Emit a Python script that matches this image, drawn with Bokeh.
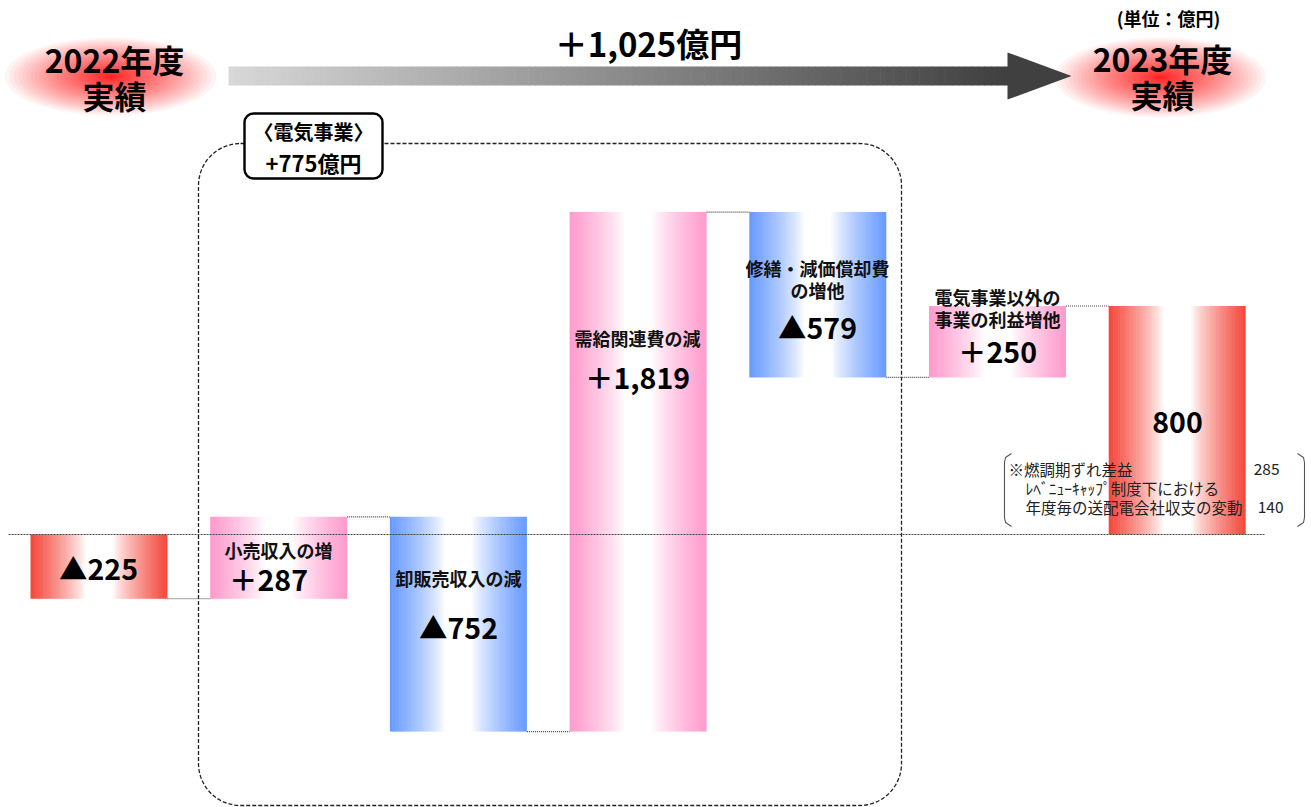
import numpy as np
from bokeh.plotting import figure
from bokeh.models import Range1d, BoxAnnotation
from bokeh.embed import file_html
from bokeh.resources import INLINE
from bokeh.core.properties import value

# ---------------- data ----------------
categories = ["2022年度実績", "小売収入の増", "卸販売収入の減", "需給関連費の減",
              "修繕・減価償却費の増他", "電気事業以外の事業の利益増他", "2023年度実績"]
values = [-225, 287, -752, 1819, -579, 250, 800]
kinds = ["total", "inc", "dec", "inc", "dec", "inc", "total"]
value_labels = ["▲225", "＋287", "▲752", "＋1,819", "▲579", "＋250", "800"]
title_lines = [[], ["小売収入の増"], ["卸販売収入の減"], ["需給関連費の減"],
               ["修繕・減価償却費", "の増他"], ["電気事業以外の", "事業の利益増他"], []]
start_title = ["2022年度", "実績"]
end_title = ["2023年度", "実績"]
unit_label = "(単位：億円)"
total_change_label = "＋1,025億円"
segment_label = ["〈電気事業〉", "+775億円"]
note_texts = ["※燃調期ずれ差益", "ﾚﾍﾞﾆｭｰｷｬｯﾌﾟ制度下における", "年度毎の送配電会社収支の変動"]
note_values = ["285", "", "140"]

# ---------------- layout ----------------
W, H = 1311, 807
ZERO_PX = 534
SCALE = 0.2856          # px per 億円
X0, STEP, BW = 98.5, 179.7, 137
FONT = value("Noto Sans CJK JP")
COLORS = {"total": (244, 70, 58), "inc": (255, 153, 204), "dec": (102, 153, 255)}

def py(v):
    return H - v

p = figure(width=W, height=H, output_backend="svg", toolbar_location=None,
           x_range=Range1d(0, W),
           y_range=Range1d(-(H - ZERO_PX) / SCALE, ZERO_PX / SCALE),
           min_border=0, outline_line_color=None)
p.extra_y_ranges = {"px": Range1d(0, H)}
p.xaxis.visible = False
p.yaxis.visible = False
p.grid.visible = False
p.background_fill_color = "white"
p.border_fill_color = "white"

# dashed rounded frame for electric business + label box
frame = BoxAnnotation(left=198, right=901, top=py(143), bottom=py(805), y_range_name="px",
                      fill_alpha=0, line_color="#222222", line_alpha=1, line_dash="4 2",
                      line_width=1.3, border_radius=42, level="underlay")
p.add_layout(frame)
lab_box = BoxAnnotation(left=244, right=382, top=py(113), bottom=py(178), y_range_name="px",
                        fill_color="white", fill_alpha=1, line_color="black", line_alpha=1,
                        line_width=2.4, border_radius=9, level="underlay")
p.add_layout(lab_box)

# ---------------- glows ----------------
def glow(cx, cy, w, h):
    n = 45
    xs, ys, ws, hs = [], [], [], []
    for k in range(n):
        s = (1 - k / n) ** 2.0
        xs.append(cx); ys.append(py(cy)); ws.append(w * s); hs.append(h * s)
    p.ellipse(x=xs, y=ys, width=ws, height=hs, fill_color="#ff0000", fill_alpha=0.045,
              line_color=None, y_range_name="px")

glow(110, 76, 212, 78)
glow(1160, 77, 212, 80)

# ---------------- big arrow ----------------
n_arr = 120
ax0, ax1 = 228, 1010
edges = np.linspace(ax0, ax1, n_arr + 1)
g = np.linspace(216, 64, n_arr).astype(int)
p.quad(left=edges[:-1], right=edges[1:] + 0.6, top=py(66), bottom=py(85),
       fill_color=["#%02x%02x%02x" % (v, v, v) for v in g], line_color=None, y_range_name="px")
p.patch(x=[1007, 1071, 1007], y=[py(52), py(75.5), py(99)], fill_color="#404040",
        line_color=None, y_range_name="px")

# ---------------- waterfall bars ----------------
starts, ends = [], []
cum = 0
for v, k in zip(values, kinds):
    if k == "total":
        s, e = 0, v
    else:
        s, e = cum, cum + v
    starts.append(s); ends.append(e)
    cum = e

N = 60
for i, (s, e, k) in enumerate(zip(starts, ends, kinds)):
    left = X0 + STEP * i - BW / 2
    ed = np.linspace(left, left + BW, N + 1)
    base = COLORS[k]
    cols = []
    for j in range(N):
        t = (j + 0.5) / N
        if t < 0.4:
            m = (0.4 - t) / 0.4
        elif t > 0.6:
            m = (t - 0.6) / 0.4
        else:
            m = 0.0
        m = m ** 0.8
        c = [int(round(255 + (b - 255) * m)) for b in base]
        cols.append("#%02x%02x%02x" % tuple(c))
    rights = ed[1:].copy()
    rights[:-1] += 0.6
    p.quad(left=ed[:-1], right=rights, top=max(s, e), bottom=min(s, e),
           fill_color=cols, line_color=None)

# connectors
cx0 = [X0 + STEP * i + BW / 2 for i in range(len(values) - 1)]
cx1 = [X0 + STEP * (i + 1) - BW / 2 for i in range(len(values) - 1)]
p.segment(x0=cx0, x1=cx1, y0=ends[:-1], y1=ends[:-1], line_color="#444444",
          line_dash="1 1", line_width=1.2)
# zero line
p.segment(x0=[8], x1=[1265], y0=[0], y1=[0], line_color="#444444", line_dash="2 1", line_width=1)

# ---------------- bar texts ----------------
val_pos = [(98, 567), (268, 578), (458, 626), (637, 376), (817, 326), (997, 350), (1177, 422)]
title_pos = [[], [(278, 549)], [(458, 577)], [(637, 337)], [(817, 267), (817, 289)],
             [(997, 296), (997, 318)], []]

tx, ty, tt = [], [], []
for i, lines in enumerate(title_lines):
    for line, (x, y) in zip(lines, title_pos[i]):
        tx.append(x); ty.append(py(y)); tt.append(line)
p.text(x=tx, y=ty, text=tt, text_font=FONT, text_font_size="18px", text_font_style="bold",
       text_align="center", text_baseline="middle", text_color="#111111", y_range_name="px")
p.text(x=[q[0] for q in val_pos], y=[py(q[1]) for q in val_pos], text=value_labels,
       text_font=FONT, text_font_size="28.5px", text_font_style="bold",
       text_align="center", text_baseline="middle", text_color="black", y_range_name="px")

# ---------------- headers ----------------
p.text(x=[114, 114], y=[py(58), py(94)], text=start_title, text_font=FONT, text_font_size="32px",
       text_font_style="bold", text_align="center", text_baseline="middle", y_range_name="px")
p.text(x=[1162, 1162], y=[py(57), py(93)], text=end_title, text_font=FONT, text_font_size="32px",
       text_font_style="bold", text_align="center", text_baseline="middle", y_range_name="px")
p.text(x=[1168], y=[py(17)], text=[unit_label], text_font=FONT, text_font_size="18px",
       text_font_style="bold", text_align="center", text_baseline="middle", y_range_name="px")
p.text(x=[648], y=[py(42)], text=[total_change_label], text_font=FONT, text_font_size="33px",
       text_font_style="bold", text_align="center", text_baseline="middle", y_range_name="px")
p.text(x=[313, 313], y=[py(131), py(161)], text=segment_label, text_font=FONT,
       text_font_size=["20px", "22px"], text_font_style="bold", text_align="center",
       text_baseline="middle", y_range_name="px")

# ---------------- note ----------------
p.text(x=[1008, 1025, 1025], y=[py(468), py(487), py(506)], text=note_texts, text_font=FONT,
       text_font_size="15.5px", text_align="left", text_baseline="middle", text_color="#222222",
       y_range_name="px")
p.text(x=[1279, 1279, 1283], y=[py(468), py(487), py(506)], text=note_values, text_font=FONT,
       text_font_size="15.5px", text_align="right", text_baseline="middle", text_color="#222222",
       y_range_name="px")
p.line(x=[1011, 1005, 1004, 1004, 1005, 1011], y=[py(453), py(457), py(462), py(517), py(522), py(526)],
       line_color="#555555", line_width=1.1, y_range_name="px")
p.line(x=[1297, 1303, 1304, 1304, 1303, 1297], y=[py(453), py(457), py(462), py(517), py(522), py(526)],
       line_color="#555555", line_width=1.1, y_range_name="px")

open("out.html", "w").write(file_html(p, INLINE))
